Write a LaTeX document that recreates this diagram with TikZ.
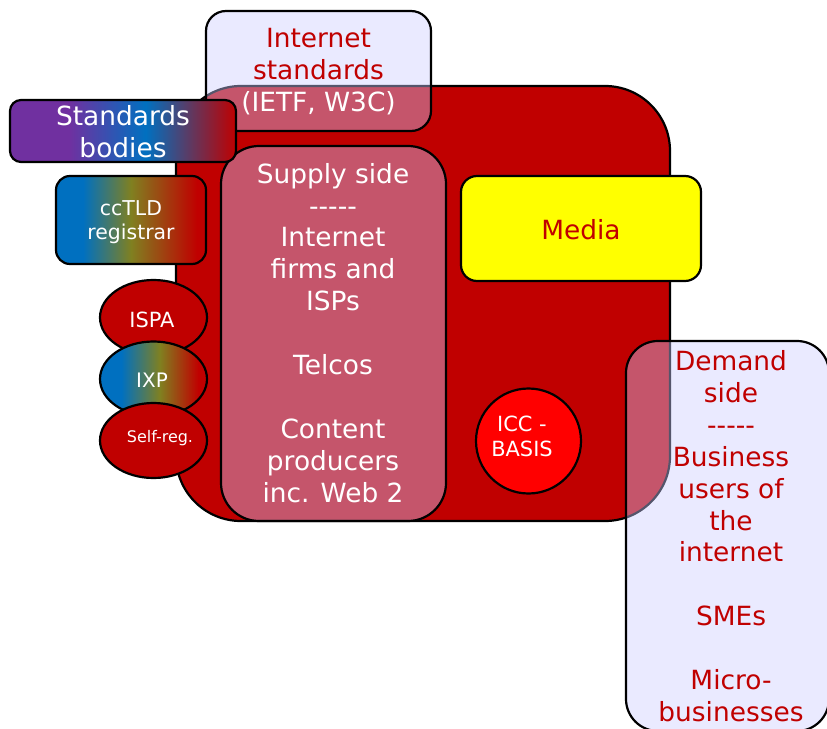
\documentclass[tikz,border=0pt]{standalone}
\usepackage{fontspec}
\setmainfont{DejaVu Sans}
\usetikzlibrary{shapes.geometric}
\definecolor{darkred}{RGB}{192,0,0}
\definecolor{lav}{RGB}{204,204,255}
\definecolor{gpurple}{RGB}{112,48,160}
\definecolor{gblue}{RGB}{0,112,192}
\definecolor{golive}{RGB}{128,128,32}
\definecolor{gred}{RGB}{192,0,0}
\definecolor{iccred}{RGB}{255,0,0}
\definecolor{myyellow}{RGB}{255,255,0}
\pgfdeclarehorizontalshading{sbshade}{100bp}{color(0bp)=(gpurple); color(38bp)=(gpurple); color(55bp)=(gblue); color(75bp)=(gred); color(100bp)=(gred)}
\pgfdeclarehorizontalshading{ccshade}{100bp}{color(0bp)=(gblue); color(34bp)=(gblue); color(50bp)=(golive); color(72bp)=(gred); color(100bp)=(gred)}
\pgfdeclarehorizontalshading{ixshade}{100bp}{color(0bp)=(gblue); color(35bp)=(gblue); color(53bp)=(golive); color(71bp)=(gred); color(100bp)=(gred)}
\newcommand\bigf{\fontsize{26.5}{32}\selectfont}
\tikzset{
  shp/.style={draw=black, line width=2.2bp, inner sep=0pt, outer sep=0pt},
  rbox/.style={shp, rectangle},
  glass/.style={rbox, fill=lav, fill opacity=0.42},
  oval/.style={shp, ellipse, minimum width=107bp, minimum height=75bp},
  txt/.style={inner sep=0pt, outer sep=0pt, align=center},
}
\begin{document}
\begin{tikzpicture}[x=1bp,y=-1bp]
\useasboundingbox (0,0) rectangle (827,729);
\clip (0,0) rectangle (827,729);
% main red region
\node[rbox, fill=darkred, minimum width=494bp, minimum height=435bp, rounded corners=65bp] (core) at (423,303.5) {};
% internet standards
\node[glass, minimum width=225bp, minimum height=120bp, rounded corners=20bp] (inet) at (318.5,71) {};
% ccTLD
\node[rbox, shading=ccshade, minimum width=150bp, minimum height=88bp, rounded corners=14bp] (cctld) at (131,220) {};
% ellipses
\node[oval, fill=darkred] (ispa) at (153.5,317.5) {};
\node[oval, shading=ixshade] (ixp) at (153.5,379) {};
\node[oval, fill=darkred] (selfreg) at (153.5,440.5) {};
% supply side
\node[glass, minimum width=225bp, minimum height=375bp, rounded corners=38bp] (supply) at (333.5,333.5) {};
% standards bodies
\node[rbox, shading=sbshade, minimum width=226bp, minimum height=62bp, rounded corners=11bp] (sb) at (123,131) {};
% media
\node[rbox, fill=myyellow, minimum width=240bp, minimum height=105bp, rounded corners=16bp] (media) at (581,228.5) {};
% ICC
\node[shp, circle, fill=iccred, minimum size=105bp] (icc) at (528.5,441) {};
% demand side
\node[glass, minimum width=203bp, minimum height=390bp, rounded corners=32bp] (demand) at (727.5,536) {};

% texts
\node[txt, anchor=north, font=\bigf] (inettxt) at (318.5,25.6)
  {\strut\color{darkred}Internet\\\color{darkred}standards\\\color{white}(IETF, W3C)};
\node[txt, anchor=north, font=\bigf, text=white] (sbtxt) at (123,103.6) {\strut Standards\\bodies};
\node[txt, anchor=north, font=\fontsize{20.5}{24}\selectfont, text=white] (cctxt) at (131,199.2) {\strut ccTLD\\registrar};
\node[txt, anchor=north, font=\bigf, text=white] (supplytxt) at (333,160.9)
  {\strut Supply side\\-{}-{}-{}-{}-\\Internet\\firms and\\ISPs\\[32bp]Telcos\\[32bp]Content\\producers\\inc. Web 2};
\node[txt, anchor=base, font=\bigf, text=darkred] (mediatxt) at (581,239) {Media};
\node[txt, anchor=base, font=\fontsize{21}{25}\selectfont, text=white] (ispatxt) at (152,327) {ISPA};
\node[txt, anchor=base, font=\fontsize{20}{24}\selectfont, text=white] (ixptxt) at (152,387) {IXP};
\node[txt, anchor=base, font=\fontsize{16}{20}\selectfont, text=white] (selftxt) at (160,442) {Self-reg.};
\node[txt, anchor=north, font=\fontsize{21}{25}\selectfont, text=white] (icctxt) at (522,414.5) {\strut ICC -\\BASIS};
\node[txt, anchor=north, font=\bigf, text=darkred] (demandtxt) at (731,348.3)
  {\strut Demand\\side\\-{}-{}-{}-{}-\\Business\\users of\\the\\internet\\[32bp]SMEs\\[32bp]Micro-\\businesses};
\end{tikzpicture}
\end{document}
